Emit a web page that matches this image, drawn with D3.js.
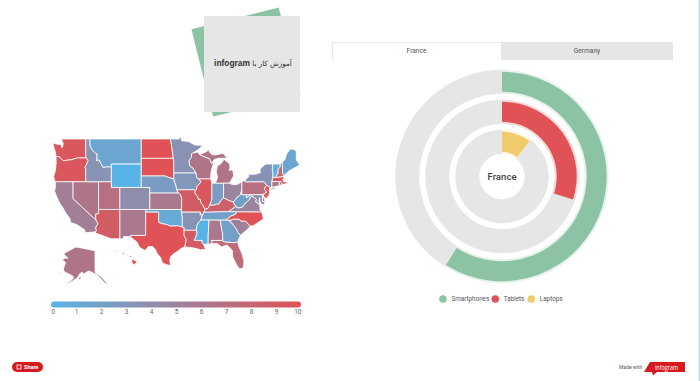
<!DOCTYPE html>
<html>
<head>
<meta charset="utf-8">
<script src="https://cdn.jsdelivr.net/npm/d3@7"></script>
<style>
  html, body { margin: 0; padding: 0; background: #fff; overflow: hidden; }
  svg { display: block; font-family: Roboto, sans-serif; }
</style>
</head>
<body>
<div id="chart"></div>
<script>
// ring chart data
const devices = ['Smartphones', 'Tablets', 'Laptops'];
const deviceShares = [59, 30, 10.5];
const deviceColors = ['#8cc3a5', '#e05256', '#f0cb69'];
const tabs = ['France', 'Germany'];

// map data
const legendTicks = [0, 1, 2, 3, 4, 5, 6, 7, 8, 9, 10];
const stateIds = ['WA','OR','CA','NV','ID','MT','WY','UT','CO','AZ','NM','ND','SD','NE','KS','OK','TX','MN','IA','MO','AR','LA','WI','IL','IN','MI','OH','KY','TN','MS','AL','GA','FL','SC','NC','VA','WV','PA','NY','VT','NH','ME','MA','RI','CT','NJ','DE','MD','AK','HI'];
const stateValues = [9.5,9.5,5.5,6.5,3.5,1.5,0,7,4,9,6,10,10,2.5,6,1,10,3.5,3,9,3.5,9,6.5,9.5,2.5,6.5,5,8.5,2,0,6,2,7.5,5.5,10,5,2,7,3.5,0.5,7.5,1.5,9.5,8,6.5,10,6.5,4,6.5,10];

// outlines in lon/lat
const stateOutlines = {
  WA: [[[-124.73,48.38],[-123.5,48.15],[-122.8,48.1],[-122.6,47.6],[-122.4,47.9],[-122.3,48.3],[-122.75,49],[-117.03,49],[-117.04,46.42],[-116.92,46],[-118.98,46],[-119.3,45.93],[-120.5,45.7],[-121.2,45.65],[-122.3,45.55],[-122.8,45.9],[-123.2,46.15],[-124,46.25],[-124.1,46.9],[-124.4,47.5]]],
  OR: [[[-124,46.25],[-123.2,46.15],[-122.8,45.9],[-122.3,45.55],[-121.2,45.65],[-120.5,45.7],[-119.3,45.93],[-118.98,46],[-116.92,46],[-116.48,45.6],[-116.85,44.95],[-117.22,44.4],[-117.03,44.2],[-117.03,42],[-124.2,42],[-124.55,42.85],[-124.1,44],[-123.95,45.2]]],
  CA: [[[-124.2,42],[-120,42],[-120,39],[-114.63,35],[-114.15,34.27],[-114.5,33.9],[-114.72,33.4],[-114.52,33],[-114.72,32.72],[-117.12,32.53],[-117.3,33.1],[-118.4,33.75],[-119.2,34.15],[-120.6,34.55],[-120.65,35.15],[-121.9,36.6],[-122.5,37.5],[-123,38],[-123.8,39.3],[-124.35,40.4],[-124.1,41]]],
  NV: [[[-120,42],[-114.04,42],[-114.04,36.2],[-114.75,36.1],[-114.63,35],[-120,39]]],
  ID: [[[-117.03,49],[-116.05,49],[-116.05,48],[-115.7,47.45],[-114.7,46.7],[-114.35,46.65],[-114.5,45.6],[-113.95,45.7],[-113.45,45.05],[-113,44.45],[-112.3,44.55],[-111.5,44.55],[-111.05,44.48],[-111.05,42],[-117.03,42],[-117.03,44.2],[-117.22,44.4],[-116.85,44.95],[-116.48,45.6],[-116.92,46],[-117.04,46.42]]],
  MT: [[[-116.05,49],[-104.05,49],[-104.05,45],[-111.05,45],[-111.05,44.48],[-111.5,44.55],[-112.3,44.55],[-113,44.45],[-113.45,45.05],[-113.95,45.7],[-114.5,45.6],[-114.35,46.65],[-114.7,46.7],[-115.7,47.45],[-116.05,48]]],
  WY: [[[-111.05,45],[-104.05,45],[-104.05,41],[-111.05,41]]],
  UT: [[[-114.04,42],[-111.05,42],[-111.05,41],[-109.05,41],[-109.05,37],[-114.04,37]]],
  CO: [[[-109.05,41],[-102.05,41],[-102.05,37],[-109.05,37]]],
  AZ: [[[-114.04,37],[-109.05,37],[-109.05,31.33],[-111.07,31.33],[-114.81,32.5],[-114.72,32.72],[-114.52,33],[-114.72,33.4],[-114.5,33.9],[-114.15,34.27],[-114.63,35],[-114.75,36.1],[-114.04,36.2]]],
  NM: [[[-109.05,37],[-103,37],[-103.04,32],[-106.62,32],[-106.53,31.78],[-108.2,31.78],[-108.2,31.33],[-109.05,31.33]]],
  ND: [[[-104.05,49],[-97.23,49],[-96.85,47.5],[-96.56,45.94],[-104.05,45.94]]],
  SD: [[[-104.05,45.94],[-96.56,45.94],[-96.45,45.3],[-96.45,43.5],[-96.45,42.49],[-97.9,42.8],[-98.5,43],[-104.05,43]]],
  NE: [[[-104.05,43],[-98.5,43],[-97.9,42.8],[-96.45,42.49],[-96.1,41.7],[-95.9,41.2],[-95.77,40.58],[-95.31,40],[-102.05,40],[-102.05,41],[-104.05,41]]],
  KS: [[[-102.05,40],[-95.31,40],[-94.9,39.8],[-94.61,39.1],[-94.62,37],[-102.05,37]]],
  OK: [[[-103,37],[-94.62,37],[-94.62,36.5],[-94.43,35.4],[-94.48,33.64],[-95.5,33.88],[-96.6,33.85],[-97.2,33.8],[-98.1,34.13],[-99.2,34.3],[-100,34.56],[-100,36.5],[-103,36.5]]],
  TX: [[[-103,36.5],[-100,36.5],[-100,34.56],[-99.2,34.3],[-98.1,34.13],[-97.2,33.8],[-96.6,33.85],[-95.5,33.88],[-94.48,33.64],[-94.04,33.55],[-94.04,33.02],[-94.04,31.99],[-93.55,31.2],[-93.85,29.7],[-94.7,29.4],[-95.4,28.9],[-96.4,28.35],[-97.2,27.7],[-97.4,26.8],[-97.15,25.96],[-97.6,25.9],[-98.2,26.05],[-99.1,26.4],[-99.5,27.5],[-100.3,28.3],[-100.8,29.25],[-101.4,29.77],[-102.4,29.77],[-102.9,29.2],[-103.3,29],[-104.5,29.65],[-105,30.65],[-106.2,31.45],[-106.53,31.78],[-106.62,32],[-103.04,32]]],
  MN: [[[-97.23,49],[-95.15,49],[-95.15,49.38],[-94.8,49.3],[-94.6,48.72],[-93,48.6],[-91.5,48.07],[-89.6,48],[-90.8,47.3],[-92.05,46.75],[-92.3,46.65],[-92.3,46.1],[-92.85,45.6],[-92.75,44.75],[-91.9,44.3],[-91.22,43.5],[-96.45,43.5],[-96.45,45.3],[-96.56,45.94],[-96.85,47.5]]],
  IA: [[[-96.45,43.5],[-91.22,43.5],[-91.1,42.7],[-90.64,42.5],[-90.15,42.1],[-90.2,41.8],[-91.05,41.2],[-91.1,40.7],[-91.42,40.38],[-91.73,40.61],[-95.77,40.58],[-95.9,41.2],[-96.1,41.7],[-96.45,42.49]]],
  MO: [[[-95.77,40.58],[-91.73,40.61],[-91.42,40.38],[-91.5,40],[-90.75,39.25],[-90.7,38.9],[-90.15,38.8],[-90.2,38.4],[-89.55,37.7],[-89.15,37],[-89.4,36.5],[-89.7,36],[-90.37,36],[-90.15,36.5],[-94.62,36.5],[-94.62,37],[-94.61,39.1],[-94.9,39.8],[-95.31,40]]],
  AR: [[[-94.62,36.5],[-90.15,36.5],[-90.37,36],[-89.7,36],[-90.1,35],[-90.6,34.6],[-91.1,33.9],[-91.17,33],[-94.04,33.02],[-94.04,33.55],[-94.48,33.64],[-94.43,35.4]]],
  LA: [[[-94.04,33.02],[-91.17,33],[-91,32.4],[-91.6,31],[-89.73,31],[-89.85,30.65],[-89.5,30.2],[-89,29.2],[-90.2,29.1],[-91.3,29.4],[-92.2,29.55],[-93.85,29.7],[-93.55,31.2],[-94.04,31.99]]],
  WI: [[[-92.3,46.65],[-92.05,46.75],[-90.9,46.95],[-90.4,46.55],[-89.1,46.15],[-88.1,45.9],[-87.6,45.1],[-87.1,45.25],[-87.5,44.4],[-87.8,43.4],[-87.8,42.49],[-90.64,42.5],[-91.1,42.7],[-91.22,43.5],[-91.9,44.3],[-92.75,44.75],[-92.85,45.6],[-92.3,46.1]]],
  IL: [[[-90.64,42.5],[-87.8,42.49],[-87.53,41.72],[-87.53,39.35],[-87.6,38.7],[-88.05,37.8],[-88.45,37.2],[-89.15,37],[-89.55,37.7],[-90.2,38.4],[-90.15,38.8],[-90.7,38.9],[-90.75,39.25],[-91.5,40],[-91.42,40.38],[-91.1,40.7],[-91.05,41.2],[-90.2,41.8],[-90.15,42.1]]],
  IN: [[[-87.53,41.72],[-87.2,41.76],[-86.82,41.76],[-84.8,41.76],[-84.81,39.1],[-85.4,38.7],[-85.9,38],[-86.5,37.95],[-87.1,37.8],[-88.05,37.8],[-87.6,38.7],[-87.53,39.35]]],
  MI: [[[-86.82,41.76],[-84.8,41.76],[-83.45,41.73],[-83.1,42.2],[-82.45,43],[-82.6,43.9],[-83,44.05],[-83.5,43.9],[-83.3,44.4],[-83.4,45.05],[-84.7,45.78],[-85.5,45],[-86.25,44.7],[-86.5,43.7],[-86.2,42.8],[-86.6,41.95]],
       [[-90.4,46.55],[-89.1,46.15],[-88.1,45.9],[-87.6,45.1],[-87,45.75],[-86,45.95],[-84.75,45.95],[-84,46],[-84.5,46.45],[-85,46.75],[-86.5,46.5],[-87.4,46.5],[-88.2,47],[-87.9,47.45],[-89,46.95]]],
  OH: [[[-84.8,41.76],[-83.45,41.73],[-82.7,41.5],[-81.7,41.5],[-80.52,41.98],[-80.52,40.64],[-80.85,39.7],[-81.7,39.2],[-82.2,38.6],[-82.6,38.42],[-83.6,38.65],[-84.3,38.95],[-84.81,39.1]]],
  KY: [[[-89.4,36.5],[-89.15,37],[-88.45,37.2],[-88.05,37.8],[-87.1,37.8],[-86.5,37.95],[-85.9,38],[-85.4,38.7],[-84.81,39.1],[-84.3,38.95],[-83.6,38.65],[-82.6,38.42],[-81.97,37.54],[-83.68,36.6],[-88.07,36.5]]],
  TN: [[[-89.7,36],[-89.4,36.5],[-88.07,36.5],[-83.68,36.6],[-81.68,36.59],[-82,36.1],[-83.1,35.75],[-84.32,35],[-85.6,34.98],[-88.2,35],[-90.1,35]]],
  MS: [[[-90.1,35],[-88.2,35],[-88.4,32],[-88.4,30.3],[-89.5,30.2],[-89.85,30.65],[-89.73,31],[-91.6,31],[-91,32.4],[-91.17,33],[-91.1,33.9],[-90.6,34.6]]],
  AL: [[[-88.2,35],[-85.6,34.98],[-85.15,32.85],[-85,32.3],[-85,31],[-87.6,31],[-87.45,30.35],[-88.4,30.3],[-88.4,32]]],
  GA: [[[-85.6,34.98],[-83.1,35],[-83.35,34.7],[-82.9,34.45],[-81.85,33.35],[-81.4,32.6],[-80.85,32.05],[-81.4,31],[-81.45,30.7],[-82.2,30.55],[-84.86,30.7],[-85,31],[-85,32.3],[-85.15,32.85]]],
  FL: [[[-87.6,31],[-85,31],[-84.86,30.7],[-82.2,30.55],[-81.45,30.7],[-81.3,29.9],[-80.55,28.45],[-80.03,26.8],[-80.15,25.7],[-80.4,25.2],[-81.1,25.15],[-81.8,26.1],[-82.7,27.7],[-82.7,28.9],[-83.4,29.6],[-84,30.1],[-85.3,29.7],[-86.3,30.4],[-87.45,30.35]]],
  SC: [[[-83.1,35],[-82.3,35.2],[-81.05,35.15],[-80.8,34.82],[-79.67,34.8],[-78.55,33.86],[-79.2,33.2],[-80.85,32.05],[-81.4,32.6],[-81.85,33.35],[-82.9,34.45],[-83.35,34.7]]],
  NC: [[[-81.68,36.59],[-75.87,36.55],[-75.5,35.25],[-76.5,34.65],[-77.9,33.9],[-78.55,33.86],[-79.67,34.8],[-80.8,34.82],[-81.05,35.15],[-82.3,35.2],[-83.1,35],[-84.32,35],[-83.1,35.75],[-82,36.1]]],
  VA: [[[-83.68,36.6],[-81.97,37.54],[-81.3,37.3],[-80.3,37.5],[-79.95,38],[-79.3,38.4],[-78.85,38.8],[-78.35,39.4],[-77.75,39.3],[-77.1,38.85],[-77.3,38.4],[-76.3,37.9],[-76.3,37],[-75.87,36.55],[-81.68,36.59]]],
  WV: [[[-82.6,38.42],[-82.2,38.6],[-81.7,39.2],[-80.85,39.7],[-80.52,40.64],[-80.52,39.72],[-79.48,39.72],[-79.48,39.2],[-78.35,39.7],[-77.75,39.3],[-78.35,39.4],[-78.85,38.8],[-79.3,38.4],[-79.95,38],[-80.3,37.5],[-81.3,37.3],[-81.97,37.54]]],
  PA: [[[-80.52,41.98],[-79.76,42.27],[-79.76,42],[-75.35,42],[-74.7,41.36],[-75.13,40.98],[-75.2,40.65],[-74.72,40.15],[-75.4,39.8],[-75.79,39.72],[-79.48,39.72],[-80.52,39.72],[-80.52,40.64]]],
  NY: [[[-79.76,42.27],[-78.9,42.9],[-79.05,43.27],[-77.5,43.27],[-76.2,43.55],[-76.3,44.1],[-75.3,44.85],[-74.7,45],[-73.35,45],[-73.4,44],[-73.25,43.55],[-73.27,42.75],[-73.5,42.05],[-73.5,41.3],[-73.65,41],[-73.9,41],[-74.7,41.36],[-75.35,42],[-79.76,42]],
       [[-72,41.05],[-73.7,40.85],[-74,40.6],[-73,40.65]]],
  VT: [[[-73.35,45],[-71.5,45],[-71.6,44.5],[-72.05,44.1],[-72.05,43.5],[-72.45,43],[-72.46,42.73],[-73.27,42.75],[-73.25,43.55],[-73.4,44]]],
  NH: [[[-71.5,45],[-71.08,45.3],[-70.98,43.4],[-70.7,43.07],[-70.82,42.87],[-72.46,42.73],[-72.45,43],[-72.05,43.5],[-72.05,44.1],[-71.6,44.5]]],
  ME: [[[-71.08,45.3],[-70.4,45.8],[-70.2,46.4],[-69.99,46.7],[-69.2,47.45],[-68.3,47.35],[-67.8,47.05],[-67.8,45.7],[-67,44.85],[-68.5,44.25],[-69.5,43.85],[-70.7,43.07],[-70.98,43.4]]],
  MA: [[[-73.5,42.05],[-73.27,42.75],[-72.46,42.73],[-70.82,42.87],[-70.65,42.6],[-71,42.3],[-70.6,41.95],[-70.05,42.05],[-70,41.8],[-70.5,41.6],[-71.12,41.5],[-71.38,42.02],[-71.8,42.02]]],
  RI: [[[-71.8,42.02],[-71.38,42.02],[-71.12,41.5],[-71.85,41.32]]],
  CT: [[[-73.5,42.05],[-71.8,42.02],[-71.85,41.32],[-73.65,41],[-73.5,41.3]]],
  NJ: [[[-74.7,41.36],[-73.9,41],[-74.25,40.5],[-74,40.4],[-74.1,39.75],[-74.9,38.95],[-75.5,39.5],[-75.4,39.8],[-74.72,40.15],[-75.2,40.65],[-75.13,40.98]]],
  DE: [[[-75.79,39.72],[-75.4,39.8],[-75.55,39.45],[-75.05,38.45],[-75.7,38.46]]],
  MD: [[[-79.48,39.72],[-75.79,39.72],[-75.7,38.46],[-75.05,38.45],[-75.4,37.9],[-75.9,37.95],[-76.3,38.5],[-76.4,39.2],[-76.5,38.4],[-76.3,37.9],[-77.3,38.4],[-77.1,38.85],[-77.75,39.3],[-78.35,39.7],[-79.48,39.2]]],
  AK: [[[-141,69.65],[-141,60.3],[-139.7,59.55],[-137.5,58.9],[-135.5,58],[-133.5,56.8],[-131.5,55.6],[-130,54.4],[-132,55.2],[-134,56],[-136.5,57.6],[-139,58.9],[-141,59.5],[-143,60],[-146,60.8],[-148.5,60],[-151.3,59.3],[-151.5,60.3],[-153.5,59.5],[-155,58],[-158,56.8],[-161.5,55.6],[-165,54.6],[-162,56],[-158.5,57.5],[-159,58.4],[-162.5,59.5],[-166,60.3],[-167,61.6],[-166,63],[-165,64.5],[-168,65.6],[-165,66.5],[-163,66.3],[-164.5,67],[-166.7,68.35],[-163,69.5],[-156.6,71.3],[-152,70.85],[-146,70.2]],
       [[-154.6,57.5],[-152.5,58.3],[-152.3,57.6],[-153.8,56.9]],
       [[-170.5,60.2],[-169.2,60.3],[-169.2,59.9],[-170.1,59.8]]],
  HI: [[[-155.9,20.25],[-155.1,19.85],[-154.8,19.5],[-155.65,18.95],[-156.05,19.7]],
       [[-156.7,20.95],[-156.25,20.95],[-156,20.75],[-156.4,20.6]],
       [[-158.28,21.55],[-157.95,21.7],[-157.65,21.3],[-158.1,21.3]],
       [[-159.75,22.1],[-159.35,22.2],[-159.3,21.95],[-159.6,21.9]],
       [[-157.3,21.2],[-156.7,21.15],[-157.3,21.05]]]
};

const width = 700, height = 381;
const svg = d3.select('#chart').append('svg').attr('width', width).attr('height', height);

// right edge of the embed
svg.append('rect').attr('x', 698.7).attr('y', 0).attr('width', 1.3).attr('height', height).attr('fill', '#b4d9ea');

// ---- title card
const card = svg.append('g');
card.append('rect').attr('x', 201).attr('y', 17).attr('width', 90).attr('height', 90)
    .attr('fill', '#8cc3a5').attr('transform', 'rotate(-14 246 62)');
card.append('rect').attr('x', 204).attr('y', 16).attr('width', 96).attr('height', 96).attr('fill', '#e6e6e6');
card.append('text').attr('x', 253).attr('y', 66).attr('text-anchor', 'middle').attr('direction', 'rtl')
    .attr('fill', '#333').style('font-family', '"DejaVu Sans"').style('font-size', '7.2px')
    .html('آموزش کار با <tspan style="font-family:\'Liberation Sans\';font-weight:bold;font-size:8.4px">infogram</tspan>');

// ---- map
const colorScale = d3.scaleLinear().domain([0, 10]).range(['#58b4e6', '#e05256']);
const mainProj = d3.geoMercator().scale(245).translate([586.2, 380]);
const hawaiiProj = d3.geoMercator().scale(245).translate([798.9, 347.5]);
const alaskaX = d3.scaleLinear().domain([-141, -168]).range([95, 62]);
const alaskaY = d3.scaleLinear().domain([60.3, 71.3]).range([272, 247]);
const alaskaProj = p => [alaskaX(p[0]), alaskaY(p[1])];
const ringLine = d3.line().curve(d3.curveLinearClosed);

function statePath(id) {
  const proj = id === 'AK' ? alaskaProj : id === 'HI' ? hawaiiProj : mainProj;
  return stateOutlines[id].map(r => ringLine(r.map(p => proj(p)))).join('');
}

svg.append('g').selectAll('path').data(stateIds).join('path')
    .attr('d', statePath)
    .attr('fill', (d, i) => colorScale(stateValues[i]))
    .attr('stroke', '#fff').attr('stroke-width', 0.8).attr('stroke-linejoin', 'round');

// ---- map legend
const legendScale = d3.scaleLinear().domain([0, 10]).range([51, 301]);
const grad = svg.append('defs').append('linearGradient').attr('id', 'legendGrad');
grad.selectAll('stop').data(legendTicks).join('stop')
    .attr('offset', d => (d * 10) + '%')
    .attr('stop-color', d => colorScale(d));
svg.append('rect').attr('x', 51).attr('y', 301.5).attr('width', 250).attr('height', 6)
    .attr('rx', 3).attr('fill', 'url(#legendGrad)');

const legendAxis = svg.append('g').attr('transform', 'translate(0,307)')
    .call(d3.axisBottom(legendScale).tickValues(legendTicks).tickSize(0).tickPadding(2.5).tickFormat(d3.format('d')));
legendAxis.select('.domain').remove();
legendAxis.selectAll('text')
    .attr('text-anchor', d => d === 0 ? 'start' : d === 10 ? 'end' : 'middle')
    .style('font-family', 'Roboto').style('font-size', '6.5px').attr('fill', '#666');

// ---- tabs
const tabX = d3.scaleOrdinal().domain(tabs).range([332, 501]);
const tabW = d3.scaleOrdinal().domain(tabs).range([169, 172]);
svg.selectAll('rect.tab').data(tabs).join('rect').classed('tab', true)
    .attr('x', d => tabX(d)).attr('y', 42)
    .attr('width', d => tabW(d)).attr('height', 18)
    .attr('fill', (d, i) => i === 0 ? '#fff' : '#e6e6e6');
svg.append('path').attr('d', d3.line()([[332.5, 60], [332.5, 42.5], [tabX('Germany'), 42.5]]))
    .attr('fill', 'none').attr('stroke', '#e6e6e6');
svg.selectAll('text.tab').data(tabs).join('text').classed('tab', true)
    .attr('x', d => tabX(d) + tabW(d) / 2).attr('y', 53)
    .attr('text-anchor', 'middle').attr('fill', '#555')
    .style('font-size', '6.6px').text(d => d);

// ---- rings
const cx = 502, cy = 176.5;
const ringG = svg.append('g').attr('transform', `translate(${cx},${cy})`);
const angle = d3.scaleLinear().domain([0, 100]).range([0, 2 * Math.PI]);
const radius = d3.scaleBand().domain(devices).range([106.7, 22.7]).paddingInner(0.2);
const arc = d3.arc();

devices.forEach((name, i) => {
  const r0 = radius(name), r1 = r0 + radius.bandwidth();
  const end = angle(deviceShares[i]);
  // grey track
  ringG.append('path').attr('fill', '#e6e6e6')
      .attr('d', arc({innerRadius: r0, outerRadius: r1, startAngle: end, endAngle: 2 * Math.PI}));
  // pale edge, then the bar itself
  ringG.append('path').attr('fill', deviceColors[i]).attr('opacity', 0.22)
      .attr('d', arc({innerRadius: r0, outerRadius: r1, startAngle: 0, endAngle: end}));
  ringG.append('path').attr('fill', deviceColors[i])
      .attr('d', arc({innerRadius: r0 + 2, outerRadius: r1 - 2, startAngle: 0, endAngle: end}));
});

ringG.append('text').attr('text-anchor', 'middle').attr('y', 3.5)
    .attr('fill', '#444').style('font-size', '9.6px').style('font-weight', 500).text('France');

// ---- ring legend
const legendX = d3.scaleOrdinal().domain(devices).range([443, 495.3, 531.3]);
const keys = svg.append('g').selectAll('g').data(devices).join('g')
    .attr('transform', d => `translate(${legendX(d)},299)`);
keys.append('circle').attr('r', 3.8).attr('fill', (d, i) => deviceColors[i]);
keys.append('text').attr('x', 8.5).attr('y', 2.3).attr('fill', '#555')
    .style('font-size', '6.3px').text(d => d);

// ---- footer
const share = svg.append('g').attr('transform', 'translate(12,362)');
share.append('rect').attr('width', 31).attr('height', 10).attr('rx', 5).attr('fill', '#d71920');
share.append('rect').attr('x', 5).attr('y', 3).attr('width', 4).attr('height', 4)
    .attr('fill', 'none').attr('stroke', '#fff').attr('stroke-width', 0.8);
share.append('text').attr('x', 12).attr('y', 7).attr('fill', '#fff')
    .style('font-size', '5.5px').style('font-weight', 700).text('Share');

svg.append('text').attr('x', 619).attr('y', 369).attr('fill', '#555').style('font-size', '5px').text('Made with');
svg.append('path').attr('fill', '#d71920')
    .attr('d', d3.line().curve(d3.curveLinearClosed)([[650, 362], [685, 362], [685, 372], [657, 372], [653, 375.5], [652, 372], [644, 372]]));
svg.append('text').attr('x', 655).attr('y', 369.5).attr('fill', '#fff')
    .attr('textLength', 23).attr('lengthAdjust', 'spacingAndGlyphs')
    .style('font-family', '"Open Sans"').style('font-size', '7px').text('infogram');
</script>
</body>
</html>
